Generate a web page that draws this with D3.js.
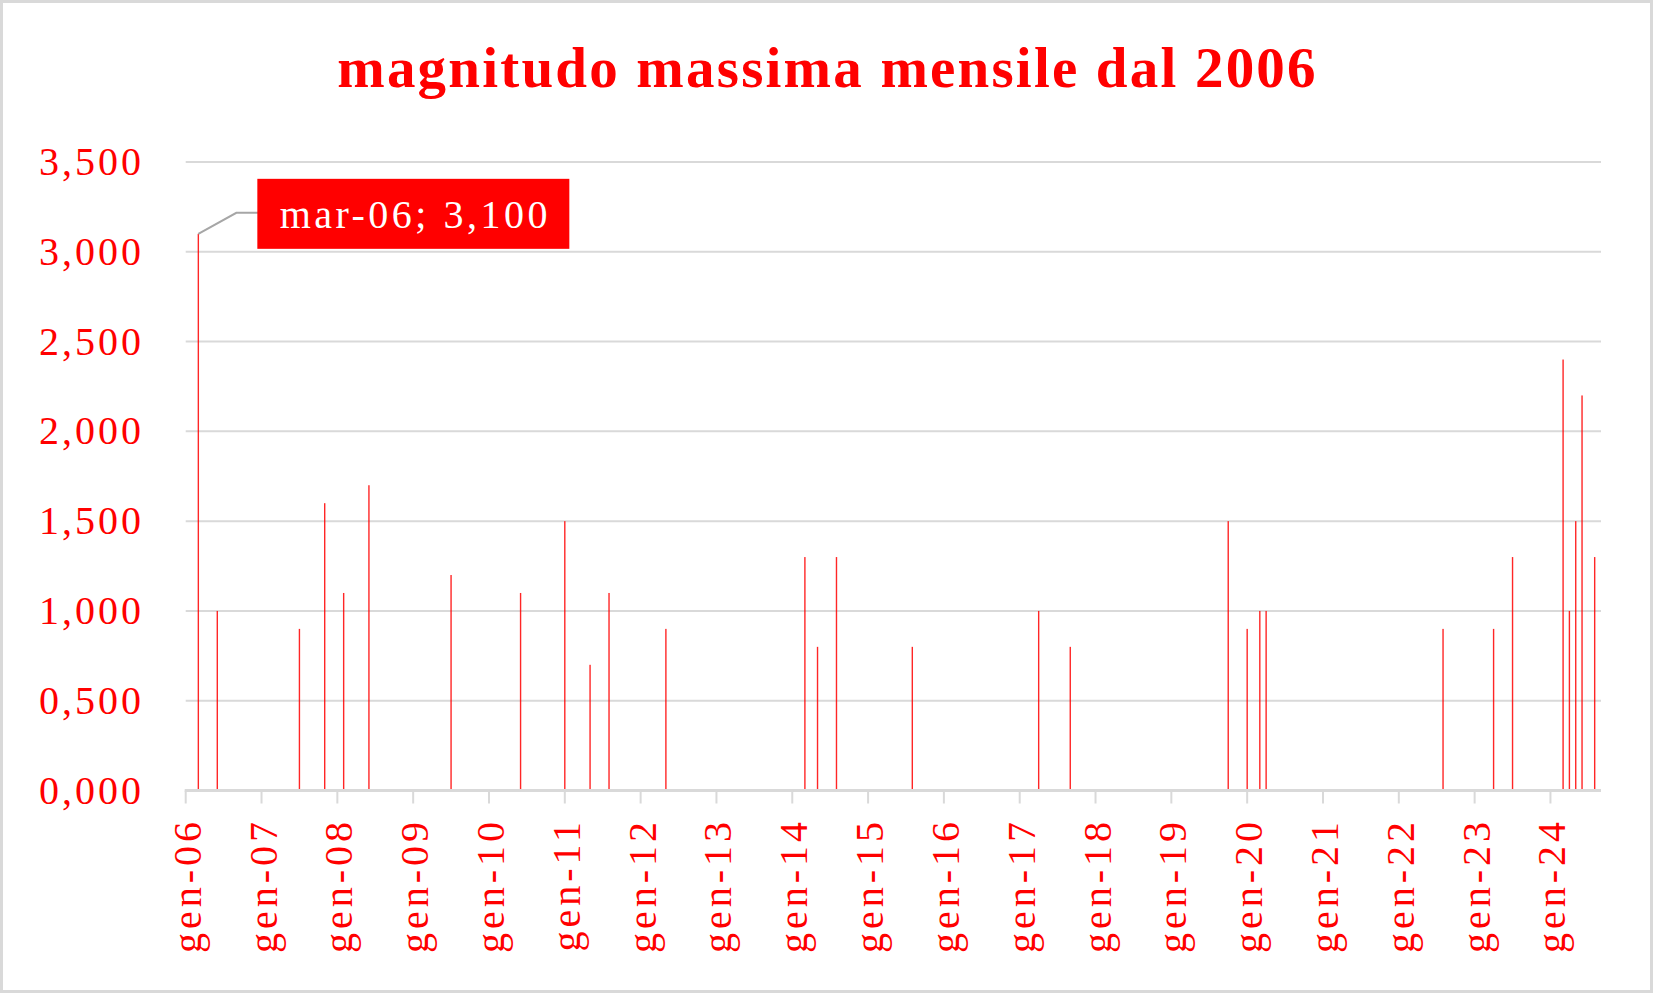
<!DOCTYPE html>
<html>
<head>
<meta charset="utf-8">
<script src="https://cdn.jsdelivr.net/npm/d3@7"></script>
<style>
    html, body { margin: 0; padding: 0; background: #ffffff; }
    svg { display: block; }
    text { font-family: 'Liberation Serif', 'Times New Roman', serif; }
</style>
</head>
<body>
<div id="chart"></div>
<script>
// Chart data (month label "mmm-yy", Italian abbreviations)
const monthLabels = ['mar-06', 'giu-06', 'lug-07', 'nov-07', 'feb-08', 'giu-08', 'lug-09', 'giu-10',
    'gen-11', 'mag-11', 'ago-11', 'mag-12', 'mar-14', 'mag-14', 'ago-14', 'ago-15', 'apr-17', 'set-17',
    'ott-19', 'gen-20', 'mar-20', 'apr-20', 'ago-22', 'apr-23', 'lug-23', 'mar-24', 'apr-24', 'mag-24',
    'giu-24', 'ago-24'];
const magnitudes = [3.1, 1.0, 0.9, 1.6, 1.1, 1.7, 1.2, 1.1,
    1.5, 0.7, 1.1, 0.9, 1.3, 0.8, 1.3, 0.8, 1.0, 0.8,
    1.5, 0.9, 1.0, 1.0, 0.9, 0.9, 1.3, 2.4, 1.0, 1.5,
    2.2, 1.3];
const xTickLabels = ['gen-06', 'gen-07', 'gen-08', 'gen-09', 'gen-10', 'gen-11', 'gen-12', 'gen-13', 'gen-14',
    'gen-15', 'gen-16', 'gen-17', 'gen-18', 'gen-19', 'gen-20', 'gen-21', 'gen-22', 'gen-23', 'gen-24'];
const yTickValues = [0, 0.5, 1.0, 1.5, 2.0, 2.5, 3.0, 3.5];
const axisStart = 'gen-06';
const axisEnd = 'set-24';
const highlighted = 'mar-06';
const chartTitle = 'magnitudo massima mensile dal 2006';

const monthNames = ['gen', 'feb', 'mar', 'apr', 'mag', 'giu', 'lug', 'ago', 'set', 'ott', 'nov', 'dic'];
// months elapsed since gen-2000
const monthIndex = label => {
    const parts = label.split('-');
    return (+parts[1]) * 12 + monthNames.indexOf(parts[0]);
};

const size = {width: 1653, height: 993};
const red = '#ff0000';
const gridColor = '#d9d9d9';
const itFormat = v => d3.format('.3f')(v).replace('.', ',');

const svg = d3.select('#chart')
    .append('svg')
    .attr('width', size.width)
    .attr('height', size.height);

// outer frame
svg.append('rect')
    .attr('x', 1.5).attr('y', 1.5)
    .attr('width', size.width - 3).attr('height', size.height - 3)
    .attr('fill', '#ffffff')
    .attr('stroke', gridColor)
    .attr('stroke-width', 3);

const xScale = d3.scaleLinear()
    .domain([monthIndex(axisStart), monthIndex(axisEnd)])
    .range([185.7, 1601]);
const yScale = d3.scaleLinear()
    .domain([0, 3.5])
    .range([790.5, 162]);

// title
svg.append('text')
    .attr('x', size.width / 2 + 1)
    .attr('y', 87)
    .attr('text-anchor', 'middle')
    .attr('fill', red)
    .attr('font-weight', 'bold')
    .attr('font-size', '57px')
    .attr('letter-spacing', '2.2px')
    .text(chartTitle);

// horizontal gridlines
svg.append('g')
    .selectAll('line')
    .data(yTickValues.filter(d => d > 0))
    .join('line')
    .attr('x1', xScale.range()[0])
    .attr('x2', xScale.range()[1])
    .attr('y1', d => yScale(d))
    .attr('y2', d => yScale(d))
    .attr('stroke', gridColor)
    .attr('stroke-width', 2);

// y labels
svg.append('g')
    .selectAll('text')
    .data(yTickValues)
    .join('text')
    .attr('x', 144)
    .attr('y', d => yScale(d) + 13)
    .attr('text-anchor', 'end')
    .attr('fill', red)
    .attr('font-size', '40px')
    .attr('letter-spacing', '3px')
    .text(d => itFormat(d));

// bars (very thin columns)
svg.append('g')
    .selectAll('rect')
    .data(monthLabels)
    .join('rect')
    .attr('x', d => xScale(monthIndex(d)) - 0.7)
    .attr('width', 1.4)
    .attr('y', (d, i) => yScale(magnitudes[i]))
    .attr('height', (d, i) => yScale(0) - yScale(magnitudes[i]))
    .attr('fill', red)
    .attr('opacity', 0.85);

// x axis line and ticks
const xAxisG = svg.append('g');
xAxisG.append('line')
    .attr('x1', xScale.range()[0] - 1)
    .attr('x2', xScale.range()[1])
    .attr('y1', yScale(0))
    .attr('y2', yScale(0))
    .attr('stroke', gridColor)
    .attr('stroke-width', 3);
xAxisG.selectAll('line.tick')
    .data(xTickLabels)
    .join('line')
    .attr('class', 'tick')
    .attr('x1', d => xScale(monthIndex(d)))
    .attr('x2', d => xScale(monthIndex(d)))
    .attr('y1', yScale(0))
    .attr('y2', yScale(0) + 13)
    .attr('stroke', gridColor)
    .attr('stroke-width', 2);
xAxisG.selectAll('text')
    .data(xTickLabels)
    .join('text')
    .attr('transform', d => 'translate(' + (xScale(monthIndex(d)) + 15) + ',818) rotate(-90)')
    .attr('text-anchor', 'end')
    .attr('fill', red)
    .attr('font-size', '40px')
    .attr('letter-spacing', '4px')
    .text(d => d);

// data label for the highlighted month
const hiIdx = monthLabels.indexOf(highlighted);
const hx = xScale(monthIndex(highlighted));
const hy = yScale(magnitudes[hiIdx]);
svg.append('path')
    .attr('d', 'M' + hx + ',' + hy + 'L' + (hx + 38) + ',' + (hy - 21) + 'H' + (hx + 60))
    .attr('fill', 'none')
    .attr('stroke', '#a6a6a6')
    .attr('stroke-width', 2);
const box = svg.append('g').attr('transform', 'translate(' + (hx + 59) + ',' + (hy - 55) + ')');
box.append('rect')
    .attr('width', 312)
    .attr('height', 70)
    .attr('fill', red);
box.append('text')
    .attr('x', 158)
    .attr('y', 49)
    .attr('text-anchor', 'middle')
    .attr('fill', '#ffffff')
    .attr('font-size', '40px')
    .attr('letter-spacing', '3.5px')
    .text(highlighted + '; ' + itFormat(magnitudes[hiIdx]));
</script>
</body>
</html>
